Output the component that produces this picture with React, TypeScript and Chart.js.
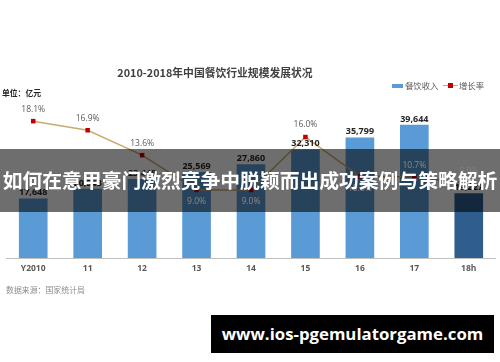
import React, { useEffect, useRef } from "react";
import { Chart, registerables } from "chart.js";

Chart.register(...registerables);

const categories = ["Y2010", "11", "12", "13", "14", "15", "16", "17", "18h"];
const revenue = [17648, 20543, 23448, 25569, 27860, 32310, 35799, 39644, 19227];
const growth = [18.1, 16.9, 13.6, 9.0, 9.0, 16.0, 10.8, 10.7, 9.9];

const TITLE = "2010-2018年中国餐饮行业规模发展状况";
const UNIT = "单位：亿元";
const SOURCE = "数据来源：国家统计局";
const LEGEND_BAR = "餐饮收入";
const LEGEND_LINE = "增长率";
const BANNER = "如何在意甲豪门激烈竞争中脱颖而出成功案例与策略解析";
const URL_TEXT = "www.ios-pgemulatorgame.com";

const BAR_COLOR = "#5b9bd5";
const BAR_COLOR_LAST = "#2f5e8e";
const LINE_COLOR = "#c9ab70";
const MARK_COLOR = "#c00000";
const BAND_TOP = 149;
const BAND_BOTTOM = 212;
const pctBelow = [3, 4, 6];

const fmt = (v: number) => v.toLocaleString("en-US");

const labelPlugin = {
  id: "customLabels",
  beforeDatasetsDraw(chart: any) {
    const ctx = chart.ctx;
    const area = chart.chartArea;
    const xs = chart.scales.x;
    ctx.save();
    ctx.strokeStyle = "#bfbfbf";
    ctx.lineWidth = 1;
    ctx.beginPath();
    const yb = Math.round(area.bottom) + 0.5;
    ctx.moveTo(area.left, yb);
    ctx.lineTo(area.right, yb);
    ctx.stroke();
    ctx.font = 'bold 8.5px "Open Sans"';
    ctx.fillStyle = "#595959";
    ctx.textAlign = "center";
    ctx.textBaseline = "middle";
    categories.forEach((c, i) => {
      ctx.fillText(c, xs.getPixelForValue(i), area.bottom + 11);
    });
    ctx.restore();
  },
  afterDatasetsDraw(chart: any) {
    const ctx = chart.ctx;
    const barMeta = chart.getDatasetMeta(0);
    const lineMeta = chart.getDatasetMeta(1);
    ctx.save();
    ctx.textAlign = "center";
    ctx.textBaseline = "middle";
    ctx.font = 'bold 9px "Open Sans"';
    ctx.fillStyle = "#262626";
    barMeta.data.forEach((el: any, i: number) => {
      ctx.fillText(fmt(revenue[i]), el.x, el.y - 6);
    });
    const pctPos: { x: number; y: number; t: string }[] = [];
    lineMeta.data.forEach((el: any, i: number) => {
      const below = pctBelow.includes(i);
      pctPos.push({ x: el.x, y: below ? el.y + 12 : el.y - 12, t: growth[i].toFixed(1) + "%" });
    });
    ctx.font = '8.5px "Open Sans"';
    ctx.fillStyle = "#595959";
    pctPos.forEach((p) => ctx.fillText(p.t, p.x, p.y));
    // banner band
    ctx.fillStyle = "rgba(0,0,0,0.57)";
    ctx.fillRect(0, BAND_TOP, chart.width, BAND_BOTTOM - BAND_TOP);
    ctx.fillStyle = "rgba(255,255,255,0.45)";
    pctPos.forEach((p) => {
      if (p.y > BAND_TOP && p.y < BAND_BOTTOM) ctx.fillText(p.t, p.x, p.y);
    });
    ctx.restore();
  },
};

export default function App() {
  const ref = useRef<HTMLCanvasElement | null>(null);
  useEffect(() => {
    document.body.style.margin = "0";
    if (!ref.current) return;
    const chart = new Chart(ref.current, {
      type: "bar",
      data: {
        labels: categories,
        datasets: [
          {
            type: "bar",
            label: LEGEND_BAR,
            data: revenue,
            backgroundColor: revenue.map((_, i) => (i === revenue.length - 1 ? BAR_COLOR_LAST : BAR_COLOR)),
            barThickness: 28,
            yAxisID: "y",
            order: 1,
          },
          {
            type: "line",
            label: LEGEND_LINE,
            data: growth,
            borderColor: LINE_COLOR,
            borderWidth: 1.5,
            pointStyle: "rect",
            pointRadius: 3.2,
            pointBackgroundColor: MARK_COLOR,
            pointBorderColor: MARK_COLOR,
            pointBorderWidth: 0,
            yAxisID: "y1",
            order: 0,
            tension: 0,
          },
        ] as any,
      },
      options: {
        responsive: false,
        animation: false,
        layout: { padding: { left: 6, right: 2, top: 100, bottom: 104 } },
        plugins: { legend: { display: false }, title: { display: false }, tooltip: { enabled: false } },
        scales: {
          x: { display: false, offset: true, grid: { display: false } },
          y: { display: false, min: 0, max: 47100 },
          y1: { display: false, min: 0, max: 20.9 },
        },
      },
      plugins: [labelPlugin],
    });
    return () => chart.destroy();
  }, []);

  const abs = (o: React.CSSProperties): React.CSSProperties => ({ position: "absolute", whiteSpace: "nowrap", ...o });
  const cjk = '"Noto Sans CJK SC", "Noto Sans", sans-serif';

  return (
    <div style={{ position: "absolute", left: 0, top: 0, width: 500, height: 362, background: "#ffffff", overflow: "hidden" }}>
      <canvas ref={ref} width={500} height={362} style={{ position: "absolute", left: 0, top: 0, width: 500, height: 362 }} />
      <div style={abs({ left: 215, top: 72, transform: "translate(-50%,-50%)", font: `bold 10.8px ${cjk}`, color: "#404040", lineHeight: 1 })}>{TITLE}</div>
      <div style={abs({ left: 2, top: 93, transform: "translateY(-50%)", font: `bold 7.8px ${cjk}`, color: "#262626", lineHeight: 1 })}>{UNIT}</div>
      <div style={abs({ left: 392, top: 83.5, width: 11, height: 4, background: BAR_COLOR })} />
      <div style={abs({ left: 405, top: 85, transform: "translateY(-50%)", font: `8.4px ${cjk}`, color: "#595959", lineHeight: 1 })}>{LEGEND_BAR}</div>
      <div style={abs({ left: 443, top: 84.5, width: 15, height: 1.5, background: LINE_COLOR })} />
      <div style={abs({ left: 447.5, top: 82.5, width: 5, height: 5, background: MARK_COLOR })} />
      <div style={abs({ left: 459, top: 85, transform: "translateY(-50%)", font: `8.4px ${cjk}`, color: "#595959", lineHeight: 1 })}>{LEGEND_LINE}</div>
      <div style={abs({ left: 6, top: 290, transform: "translateY(-50%)", font: `7.9px ${cjk}`, color: "#8c8c8c", lineHeight: 1 })}>{SOURCE}</div>
      <div style={abs({ left: 250, top: 180, transform: "translate(-50%,-50%)", font: `bold 19.8px ${cjk}`, color: "#ffffff", lineHeight: 1 })}>{BANNER}</div>
      <div style={abs({ left: 211, top: 315, width: 283, height: 38, background: "#000000", display: "flex", alignItems: "center", justifyContent: "center" })}>
        <span style={{ font: 'bold 16.8px "Open Sans", sans-serif', color: "#ffffff", lineHeight: 1 }}>{URL_TEXT}</span>
      </div>
    </div>
  );
}
